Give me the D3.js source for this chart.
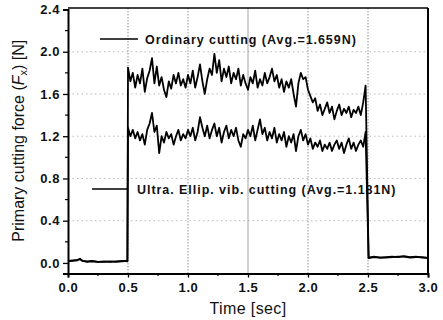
<!DOCTYPE html>
<html><head><meta charset="utf-8">
<script src="https://cdn.jsdelivr.net/npm/d3@7"></script>
<style>
body{margin:0;background:#fff;}
svg{display:block;font-family:"Liberation Sans",Arial,sans-serif;}
</style></head><body>
<svg id="c" width="443" height="320"></svg>
<script>
// ---- data ----
const xTicks = [0.0, 0.5, 1.0, 1.5, 2.0, 2.5, 3.0];
const yTicks = [0.0, 0.4, 0.8, 1.2, 1.6, 2.0, 2.4];
const legendLabels = ["Ordinary cutting (Avg.=1.659N)", "Ultra. Ellip. vib. cutting (Avg.=1.181N)"];

// before cutting (time, sec)
const preTime = [0.00, 0.04, 0.08, 0.10, 0.12, 0.16, 0.20, 0.25, 0.30, 0.35, 0.40, 0.45, 0.495];
const preOrd  = [0.020, 0.025, 0.030, 0.040, 0.020, 0.015, 0.020, 0.010, 0.015, 0.010, 0.015, 0.020, 0.015];
const preUev  = [0.015, 0.020, 0.025, 0.035, 0.020, 0.010, 0.015, 0.010, 0.010, 0.015, 0.010, 0.015, 0.020];

// during cutting: samples from 0.50 s every 0.02 s up to 2.48 s
const cutStart = 0.50, cutStep = 0.02;
const cutOrd = [1.85,1.72,1.80,1.66,1.78,1.70,1.84,1.62,1.75,1.82,
                1.94,1.70,1.86,1.68,1.76,1.64,1.57,1.72,1.65,1.78,
                1.70,1.80,1.68,1.74,1.66,1.78,1.70,1.82,1.66,1.76,
                1.88,1.72,1.60,1.74,1.84,1.78,1.98,1.80,1.92,1.72,
                1.84,1.76,1.86,1.70,1.80,1.74,1.84,1.68,1.78,1.70,
                1.64,1.76,1.70,1.82,1.66,1.74,1.68,1.80,1.70,1.76,
                1.84,1.72,1.78,1.66,1.74,1.62,1.72,1.66,1.74,1.60,
                1.48,1.70,1.80,1.74,1.76,1.64,1.58,1.52,1.56,1.44,
                1.50,1.40,1.46,1.52,1.42,1.48,1.36,1.44,1.50,1.40,
                1.46,1.42,1.48,1.38,1.45,1.42,1.48,1.40,1.52,1.68];
const cutUev = [1.28,1.20,1.26,1.18,1.24,1.16,1.22,1.12,1.26,1.32,
                1.42,1.24,1.30,1.04,1.20,1.14,1.24,1.18,1.22,1.12,
                1.20,1.26,1.16,1.22,1.18,1.26,1.20,1.28,1.16,1.24,
                1.38,1.28,1.20,1.30,1.18,1.26,1.32,1.20,1.28,1.14,
                1.24,1.30,1.18,1.26,1.20,1.28,1.16,1.10,1.22,1.18,
                1.26,1.20,1.30,1.16,1.26,1.36,1.22,1.28,1.16,1.24,
                1.18,1.28,1.14,1.22,1.16,1.24,1.10,1.20,1.14,1.22,
                1.06,1.20,1.26,1.16,1.22,1.12,1.18,1.08,1.14,1.10,
                1.16,1.06,1.12,1.08,1.14,1.06,1.12,1.16,1.08,1.14,
                1.04,1.12,1.18,1.08,1.14,1.06,1.12,1.16,1.10,1.24];

// after cutting
const postTime = [2.505, 2.55, 2.60, 2.65, 2.70, 2.75, 2.80, 2.85, 2.90, 2.95, 3.00];
const postOrd  = [0.050, 0.060, 0.050, 0.055, 0.060, 0.055, 0.065, 0.055, 0.060, 0.050, 0.050];
const postUev  = [0.045, 0.055, 0.050, 0.050, 0.055, 0.060, 0.060, 0.050, 0.055, 0.055, 0.045];

// ---- build series ----
function build(pre, cut, post){
  const pts = preTime.map((t,i)=>[t, pre[i]]);
  cut.forEach((v,i)=>pts.push([cutStart + i*cutStep, v]));
  postTime.forEach((t,i)=>pts.push([t, post[i]]));
  return pts;
}
const series = [build(preOrd, cutOrd, postOrd), build(preUev, cutUev, postUev)];

// ---- layout ----
const svg = d3.select("#c");
const L = 68, R = 428, T = 8, B = 273.5;
const x = d3.scaleLinear().domain([0, 3]).range([L, R]);
const y = d3.scaleLinear().domain([-0.1, 2.4]).range([B, 9.5]);

// grid
const g = svg.append("g");
[0.5, 1.0, 2.0, 2.5].forEach(v=>{
  g.append("line").attr("x1", x(v)).attr("x2", x(v)).attr("y1", T).attr("y2", B)
   .attr("stroke", "#777").attr("stroke-width", 0.8).attr("stroke-dasharray", "1.5,1.5");
});
g.append("line").attr("x1", x(1.5)).attr("x2", x(1.5)).attr("y1", T).attr("y2", B)
   .attr("stroke", "#999").attr("stroke-width", 0.9);
[0.4, 0.8, 1.2, 1.6, 2.0].forEach(v=>{
  g.append("line").attr("x1", L).attr("x2", R).attr("y1", y(v)).attr("y2", y(v))
   .attr("stroke", "#aaa").attr("stroke-width", 0.8).attr("stroke-dasharray", "1.5,3");
});

// legend texts
const lg = svg.append("g").attr("font-weight", "bold").attr("font-size", 12.5)
  .attr("letter-spacing", 0.95).attr("fill", "#111");
lg.append("line").attr("x1", 100).attr("x2", 138).attr("y1", 39).attr("y2", 39).attr("stroke", "#000").attr("stroke-width", 1.5);
lg.append("text").attr("x", 145).attr("y", 44).text(legendLabels[0]);
lg.append("line").attr("x1", 92).attr("x2", 128).attr("y1", 189).attr("y2", 189).attr("stroke", "#000").attr("stroke-width", 1.5);
lg.append("text").attr("x", 137).attr("y", 194).text(legendLabels[1]);

// lines
const line = d3.line().x(d=>x(d[0])).y(d=>y(d[1]));
series.forEach(s=>{
  svg.append("path").datum(s).attr("d", line).attr("fill", "none")
    .attr("stroke", "#000").attr("stroke-width", 1.8).attr("stroke-linejoin", "round");
});

// frame
svg.append("line").attr("x1", L).attr("x2", R).attr("y1", T).attr("y2", T).attr("stroke", "#000").attr("stroke-width", 1.5);
svg.append("line").attr("x1", R).attr("x2", R).attr("y1", T).attr("y2", B).attr("stroke", "#000").attr("stroke-width", 2);

// axes
const xAxis = d3.axisBottom(x).tickValues(xTicks).tickFormat(d3.format(".1f")).tickSize(4).tickPadding(5);
const xa = svg.append("g").attr("transform", `translate(0,${B})`).call(xAxis);
const yAxis = d3.axisLeft(y).tickValues(yTicks).tickFormat(d3.format(".1f")).tickSize(5).tickPadding(3);
const ya = svg.append("g").attr("transform", `translate(${L},0)`).call(yAxis);
[xa, ya].forEach(a=>{
  a.select(".domain").attr("stroke", "#000").attr("stroke-width", 2);
  a.selectAll(".tick line").attr("stroke", "#000").attr("stroke-width", 1.3);
  a.selectAll(".tick text").attr("font-size", 13).attr("font-weight", "bold").attr("letter-spacing", 0.6)
    .attr("font-family", "'Liberation Sans',Arial,sans-serif").attr("fill", "#111");
});
// minor ticks
const xMinor = xTicks.slice(0, -1).map(v=>v + 0.25);
xa.selectAll(".minor").data(xMinor).enter().append("line")
  .attr("x1", d=>x(d)).attr("x2", d=>x(d)).attr("y1", 0).attr("y2", 2.5).attr("stroke", "#000").attr("stroke-width", 1.2);
const yMinor = yTicks.slice(0, -1).map(v=>v + 0.2);
ya.selectAll(".minor").data(yMinor).enter().append("line")
  .attr("x1", -3).attr("x2", 0).attr("y1", d=>y(d)).attr("y2", d=>y(d)).attr("stroke", "#000").attr("stroke-width", 1.2);

// axis titles
svg.append("text").attr("x", (L+R)/2).attr("y", 314).attr("text-anchor", "middle")
  .attr("font-size", 16).attr("letter-spacing", 0.4).attr("fill", "#111").text("Time [sec]");
const yt = svg.append("text").attr("transform", `translate(24,${(T+B)/2}) rotate(-90)`)
  .attr("text-anchor", "middle").attr("font-size", 16).attr("fill", "#111");
yt.append("tspan").text("Primary cutting force (");
yt.append("tspan").attr("font-style", "italic").text("F");
yt.append("tspan").attr("font-size", 11).attr("dy", 3).text("x");
yt.append("tspan").attr("dy", -3).text(") [N]");
</script>
</body></html>
